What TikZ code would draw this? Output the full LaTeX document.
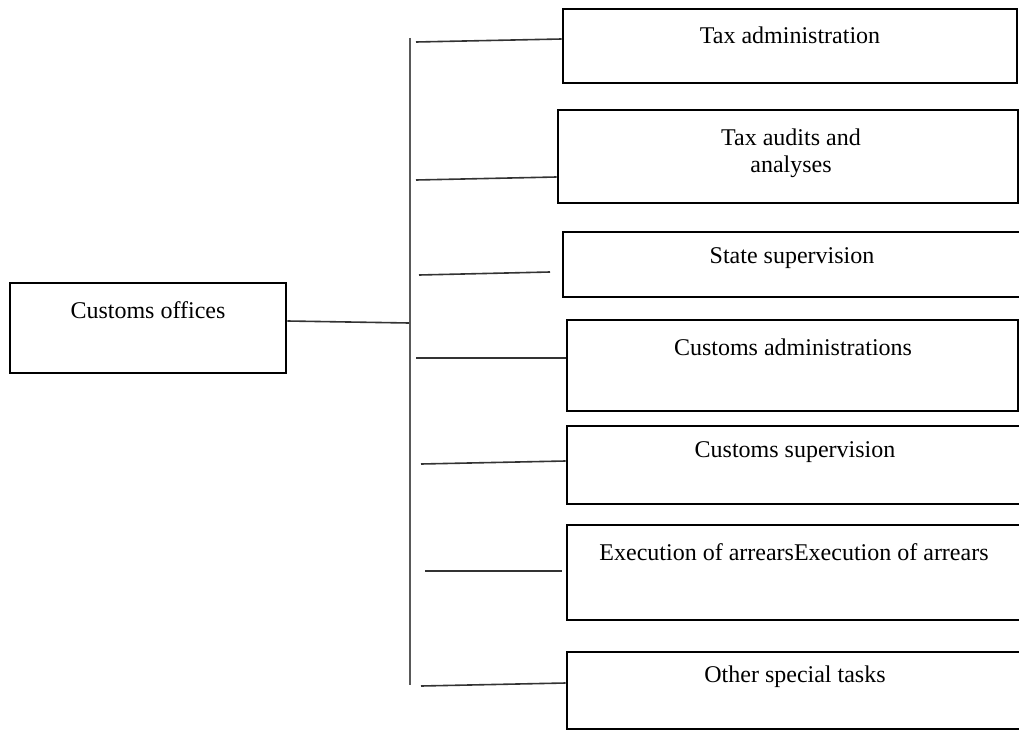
\documentclass[tikz,border=0pt]{standalone}
\usepackage{fontspec}
\setmainfont{Liberation Serif}
\usepackage{tikz}

\begin{document}
\begin{tikzpicture}[x=1pt, y=-1pt,
        box/.style={draw=black, line width=2.8pt, rectangle, inner sep=0pt},
        lbl/.style={font=\fontsize{24}{27}\selectfont, align=center, inner sep=0pt},
        conn/.style={draw=black!80, line width=1.6pt},
        trunk/.style={draw=black!65, line width=2pt}]
        \useasboundingbox (0,0) rectangle (1019,730);
        \clip (0,0) rectangle (1019,730);
        % boxes
        \node[box, minimum width=276, minimum height=90] (offices) at (148,328) {};
        \node[box, minimum width=454, minimum height=74] (taxadm) at (790,46) {};
        \node[box, minimum width=460, minimum height=93] (audits) at (788,156.5) {};
        \node[box, minimum width=459, minimum height=65] (state) at (792.5,264.5) {};
        \node[box, minimum width=451, minimum height=91] (custadm) at (792.5,365.5) {};
        \node[box, minimum width=455, minimum height=78] (custsup) at (794.5,465) {};
        \node[box, minimum width=455, minimum height=95] (arrears) at (794.5,572.5) {};
        \node[box, minimum width=455, minimum height=77] (special) at (794.5,690.5) {};
        % texts
        \node[lbl] (toffices) at (148,310) {Customs offices};
        \node[lbl] (ttaxadm) at (790,35) {Tax administration};
        \node[lbl] (taudits) at (791,153) {Tax audits and\\analyses};
        \node[lbl] (tstate) at (792,258) {State supervision};
        \node[lbl] (tcustadm) at (793,347) {Customs administrations};
        \node[lbl] (tcustsup) at (795,452) {Customs supervision};
        \node[lbl] (tarrears) at (794,552) {Execution of arrearsExecution of arrears};
        \node[lbl] (tspecial) at (795,677) {Other special tasks};
        % connectors
        \coordinate (vtop) at (410,38);
        \coordinate (vbot) at (410,685);
        \coordinate (join) at (409,323);
        \draw[trunk] (vtop) -- (vbot);
        \draw[conn] ([yshift=7pt]offices.east) -- (join);
        \coordinate (s1) at (416,42);
        \coordinate (s2) at (416,180);
        \coordinate (s3) at (419,275);
        \coordinate (e3) at (550,272);
        \coordinate (s4) at (416,358);
        \coordinate (s5) at (421,464);
        \coordinate (s6) at (425,571);
        \coordinate (e6) at (562,571);
        \coordinate (s7) at (421,686);
        \draw[conn] (s1) -- ([yshift=7pt]taxadm.west);
        \draw[conn] (s2) -- ([yshift=-20.5pt]audits.west);
        \draw[conn] (s3) -- (e3);
        \draw[conn] (s4) -- ([yshift=7.5pt]custadm.west);
        \draw[conn] (s5) -- ([yshift=4pt]custsup.west);
        \draw[conn] (s6) -- (e6);
        \draw[conn] (s7) -- ([yshift=7.5pt]special.west);
\end{tikzpicture}
\end{document}
